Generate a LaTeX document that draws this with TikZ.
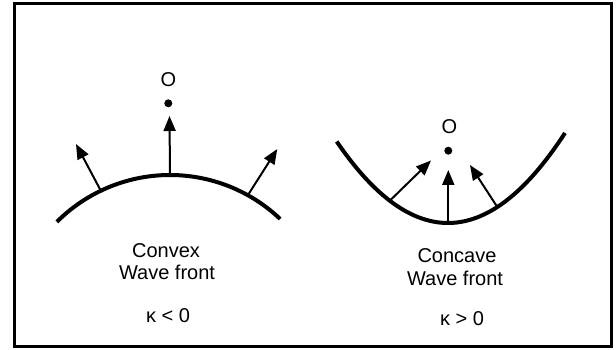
\documentclass[tikz,border=0pt]{standalone}
\usepackage{fontspec}
\setmainfont{Liberation Sans}
\usetikzlibrary{arrows.meta}
\tikzset{
  wave/.style={line width=4pt, line cap=butt},
  normal/.style={line width=2pt, -{Triangle[length=15pt,width=12pt]}},
  lbl/.style={font=\fontsize{20}{22}\selectfont, anchor=base, inner sep=0pt},
  focus/.style={circle, fill=black, inner sep=0pt, minimum size=8pt}
}
\begin{document}
\begin{tikzpicture}[x=1pt,y=-1pt]
\useasboundingbox (0,0) rectangle (616,350);
\draw[line width=3pt] (14,4) rectangle (611,346);

% Convex wave front
\draw[wave] plot[domain=46.5:135, samples=60, smooth] ({170+160*cos(\x)},{335-160*sin(\x)});
\coordinate (cb1) at (100.7,190.5);
\coordinate (cb2) at (170,175);
\coordinate (cb3) at (248.3,194.5);
\coordinate (ct1) at (76,144);
\coordinate (ct2) at (169.5,116);
\coordinate (ct3) at (277.3,149);
\draw[normal] (cb1) -- (ct1);
\draw[normal] (cb2) -- (ct2);
\draw[normal] (cb3) -- (ct3);
\node[focus] (o1) at (168.3,103.3) {};
\node[lbl] (O1) at (168.3,87) {O};
\node[lbl] (cx1) at (166,257) {Convex};
\node[lbl] (cx2) at (167,279) {Wave front};
\node[lbl] (cx3) at (168,322) {κ < 0};

% Concave wave front
\draw[wave] plot[domain=336.7:565, samples=60, smooth] (\x,{223-0.00657*(\x-448)*(\x-448)});
\coordinate (vb1) at (390,200.5);
\coordinate (vb2) at (448.3,221.5);
\coordinate (vb3) at (497.3,207);
\coordinate (vt1) at (431,160.5);
\coordinate (vt2) at (448.3,170);
\coordinate (vt3) at (470,165);
\draw[normal] (vb1) -- (vt1);
\draw[normal] (vb2) -- (vt2);
\draw[normal] (vb3) -- (vt3);
\node[focus] (o2) at (448.3,150.7) {};
\node[lbl] (O2) at (449.3,134) {O};
\node[lbl] (cv1) at (457,262.5) {Concave};
\node[lbl] (cv2) at (455,285.5) {Wave front};
\node[lbl] (cv3) at (462,325.5) {κ > 0};
\end{tikzpicture}
\end{document}
